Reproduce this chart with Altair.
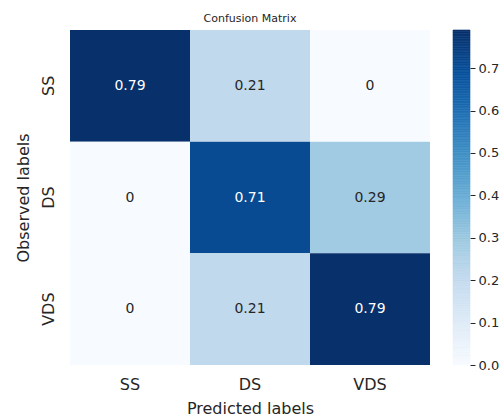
import altair as alt
import numpy as np
import pandas as pd

# Confusion matrix values (rows: observed, columns: predicted)
classes = ["SS", "DS", "VDS"]
row_ss = [0.79, 0.21, 0.0]
row_ds = [0.0, 0.71, 0.29]
row_vds = [0.0, 0.21, 0.79]
cbar_ticks = [0.0, 0.1, 0.2, 0.3, 0.4, 0.5, 0.6, 0.7]

rows = {"SS": row_ss, "DS": row_ds, "VDS": row_vds}
records = []
for obs, vals in rows.items():
    for pred, v in zip(classes, vals):
        records.append({"observed": obs, "predicted": pred, "value": v,
                        "label": f"{v:g}"})
df = pd.DataFrame(records)

# ColorBrewer "Blues" ramp, spread evenly over 0..max
blues = ["#f7fbff", "#deebf7", "#c6dbef", "#9ecae1", "#6baed6",
         "#4292c6", "#2171b5", "#08519c", "#08306b"]
vmax = max(max(row_ss), max(row_ds), max(row_vds))
stops = list(np.linspace(0, vmax, len(blues)))
color_scale = alt.Scale(domain=stops, range=blues, interpolate="rgb")
FONT = "DejaVu Sans"
TEXT = "#262626"

base = alt.Chart(df).encode(
    x=alt.X("predicted:N", sort=classes, title="Predicted labels",
            axis=alt.Axis(labelAngle=0, tickSize=0, domain=False,
                          labelFontSize=16, titleFontSize=16,
                          labelPadding=11, titlePadding=8,
                          labelColor=TEXT, titleColor=TEXT,
                          labelFont=FONT, titleFont=FONT,
                          titleFontWeight="normal")),
    y=alt.Y("observed:N", sort=classes, title="Observed labels",
            axis=alt.Axis(labelAngle=270, tickSize=0, domain=False,
                          labelFontSize=16, titleFontSize=16,
                          labelPadding=14, titlePadding=9,
                          labelColor=TEXT, titleColor=TEXT,
                          labelFont=FONT, titleFont=FONT,
                          titleFontWeight="normal")),
)

cells = base.mark_rect().encode(
    color=alt.Color("value:Q", scale=color_scale, legend=None)
)

annot = base.mark_text(font=FONT, fontSize=14).encode(
    text="label:N",
    color=alt.condition(alt.datum.value > 0.5, alt.value("white"), alt.value(TEXT)),
)

heatmap = (cells + annot).properties(
    width=360, height=335,
    title=alt.TitleParams("Confusion Matrix", fontSize=11, font=FONT,
                          fontWeight="normal", color=TEXT, offset=6),
)

# Colour bar drawn as a stack of thin bands through the same colour scale
edges = np.linspace(0, vmax, 201)
bar = pd.DataFrame({"lo": edges[:-1], "hi": edges[1:],
                    "mid": (edges[:-1] + edges[1:]) / 2})
colorbar = alt.Chart(bar).mark_rect(strokeWidth=0.6).encode(
    y=alt.Y("lo:Q", scale=alt.Scale(domain=[0, vmax], nice=False, zero=True),
            title=None,
            axis=alt.Axis(orient="right", values=cbar_ticks, format=".1f",
                          tickSize=5, tickColor=TEXT, domain=False, grid=False,
                          labelFontSize=13, labelFont=FONT, labelColor=TEXT,
                          labelPadding=3)),
    y2="hi:Q",
    color=alt.Color("mid:Q", scale=color_scale, legend=None),
    stroke=alt.Color("mid:Q", scale=color_scale, legend=None),
).properties(width=17, height=335)

chart = alt.hconcat(heatmap, colorbar, spacing=22).configure_view(
    stroke=None
).properties(padding={"left": 14, "top": 13, "right": 0, "bottom": 0})

chart.save("out.html", embed_options={"renderer": "svg", "actions": False})
